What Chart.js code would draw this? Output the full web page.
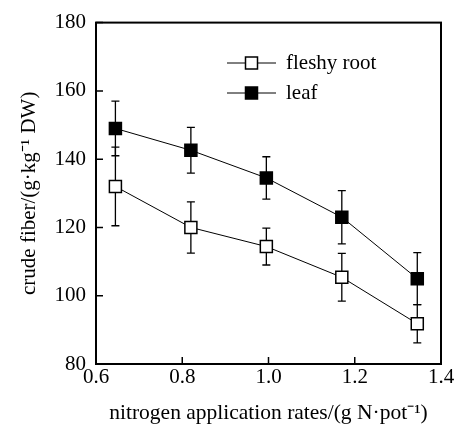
<!DOCTYPE html>
<html>
<head>
<meta charset="utf-8">
<script src="https://cdn.jsdelivr.net/npm/chart.js@4.4.1/dist/chart.umd.min.js"></script>
<style>
  html, body { margin: 0; padding: 0; background: #fff; }
  #wrap { width: 456px; height: 426px; }
</style>
</head>
<body>
<div id="wrap"><canvas id="grafica"></canvas></div>
<script>
// nitrogen rates (g N/pot)
var rates = [0.645, 0.82, 0.995, 1.17, 1.345];
// crude fiber, g/kg DW
var rootMean = [132, 120, 114.4, 105.4, 91.8];
var rootErr = [11.5, 7.5, 5.4, 7, 5.6];
var leafMean = [149, 142.6, 134.5, 123, 105];
var leafErr = [8, 6.7, 6.2, 7.8, 7.6];
var seriesNames = ['fleshy root', 'leaf'];

var fuente = 'Liberation Serif';
Chart.defaults.font.family = fuente;
Chart.defaults.font.size = 21;
Chart.defaults.color = '#000';

function puntos(xs, ys, errs) {
    var out = [];
    for (var i = 0; i < xs.length; i++) {
        out.push({x: xs[i], y: ys[i], e: errs[i]});
    }
    return out;
}

// error bars go under the markers
var barrasError = {
    id: 'barrasError',
    beforeDatasetsDraw: function (chart) {
        var ctx = chart.ctx, y = chart.scales.y, x = chart.scales.x;
        ctx.save();
        ctx.strokeStyle = '#000';
        ctx.lineWidth = 1.3;
        chart.data.datasets.forEach(function (ds) {
            ds.data.forEach(function (p) {
                var px = x.getPixelForValue(p.x);
                var top = y.getPixelForValue(p.y + p.e);
                var bot = y.getPixelForValue(p.y - p.e);
                ctx.beginPath();
                ctx.moveTo(px, top); ctx.lineTo(px, bot);
                ctx.moveTo(px - 4, top); ctx.lineTo(px + 4, top);
                ctx.moveTo(px - 4, bot); ctx.lineTo(px + 4, bot);
                ctx.stroke();
            });
        });
        ctx.restore();
    }
};

// frame, inward ticks and the legend inside the plot
var marco = {
    id: 'marco',
    afterDraw: function (chart) {
        var ctx = chart.ctx, a = chart.chartArea;
        var x = chart.scales.x, y = chart.scales.y;
        ctx.save();
        ctx.strokeStyle = '#000';
        ctx.lineWidth = 2;
        ctx.strokeRect(a.left, a.top, a.right - a.left, a.bottom - a.top);
        ctx.lineWidth = 1.5;
        ctx.beginPath();
        x.ticks.forEach(function (t) {
            var px = x.getPixelForValue(t.value);
            ctx.moveTo(px, a.bottom); ctx.lineTo(px, a.bottom - 7);
        });
        y.ticks.forEach(function (t) {
            var py = y.getPixelForValue(t.value);
            ctx.moveTo(a.left, py); ctx.lineTo(a.left + 7, py);
        });
        ctx.stroke();

        // leyenda
        var lx = 227, lw = 49, ly = [63, 93];
        chart.data.datasets.forEach(function (ds, i) {
            ctx.lineWidth = 1;
            ctx.beginPath();
            ctx.moveTo(lx, ly[i]); ctx.lineTo(lx + lw, ly[i]);
            ctx.stroke();
            ctx.fillStyle = ds.pointBackgroundColor;
            ctx.lineWidth = 1.5;
            ctx.fillRect(lx + lw / 2 - 6, ly[i] - 6, 12, 12);
            ctx.strokeRect(lx + lw / 2 - 6, ly[i] - 6, 12, 12);
            ctx.fillStyle = '#000';
            ctx.font = '21px "Liberation Serif"';
            ctx.textBaseline = 'middle';
            ctx.textAlign = 'left';
            ctx.fillText(ds.label, 286, ly[i]);
        });
        ctx.restore();
    }
};

var config = {
    type: 'scatter',
    data: {
        datasets: [{
            label: seriesNames[0],
            data: puntos(rates, rootMean, rootErr),
            showLine: true,
            borderColor: '#000',
            borderWidth: 1,
            pointStyle: 'rect',
            pointRadius: 8.5,
            pointHoverRadius: 8.5,
            pointBackgroundColor: '#fff',
            pointBorderColor: '#000',
            pointBorderWidth: 1.5
        }, {
            label: seriesNames[1],
            data: puntos(rates, leafMean, leafErr),
            showLine: true,
            borderColor: '#000',
            borderWidth: 1,
            pointStyle: 'rect',
            pointRadius: 8.5,
            pointHoverRadius: 8.5,
            pointBackgroundColor: '#000',
            pointBorderColor: '#000',
            pointBorderWidth: 1.5
        }]
    },
    options: {
        responsive: true,
        maintainAspectRatio: false,
        animation: false,
        layout: {padding: {top: 18, right: 15, left: 0, bottom: 0}},
        plugins: {legend: {display: false}, tooltip: {enabled: false}},
        scales: {
            x: {
                type: 'linear',
                min: 0.6, max: 1.4,
                grid: {display: false, drawTicks: false},
                border: {display: false},
                ticks: {
                    stepSize: 0.2,
                    padding: 1,
                    color: '#000',
                    callback: function (v) { return v.toFixed(1); }
                },
                title: {
                    display: true,
                    text: 'nitrogen application rates/(g N·pot⁻¹)',
                    color: '#000',
                    font: {size: 21.5},
                    padding: {top: 0, bottom: 0}
                },
                afterFit: function (s) { s.height = 62; }
            },
            y: {
                min: 80, max: 180,
                grid: {display: false, drawTicks: false},
                border: {display: false},
                ticks: {
                    stepSize: 20,
                    padding: 10,
                    color: '#000'
                },
                title: {
                    display: true,
                    text: 'crude fiber/(g·kg⁻¹ DW)',
                    color: '#000',
                    padding: {top: 17, bottom: 0}
                },
                afterFit: function (s) { s.width = 96; }
            }
        }
    },
    plugins: [barrasError, marco]
};

var canvas = document.getElementById('grafica').getContext('2d');
window.grafica = new Chart(canvas, config);
</script>
</body>
</html>
